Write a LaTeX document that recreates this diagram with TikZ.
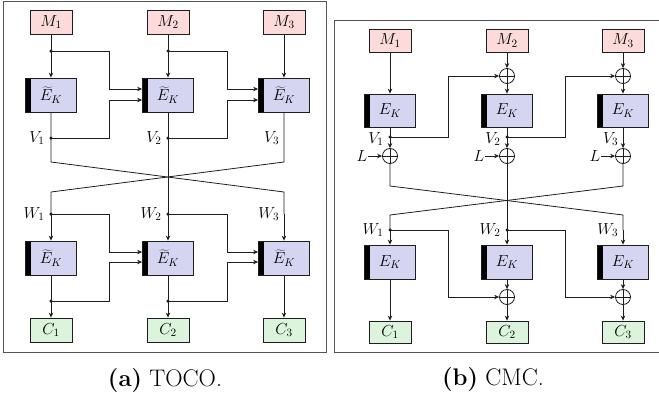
\RequirePackage{fix-cm}
\documentclass[tikz,border=0pt]{standalone}
\usepackage{fontspec}
\usetikzlibrary{arrows.meta,calc}
\definecolor{mfill}{RGB}{253,219,219}
\definecolor{efill}{RGB}{213,213,242}
\definecolor{cfill}{RGB}{220,244,220}
\definecolor{frm}{RGB}{85,85,85}
\definecolor{ln}{RGB}{30,30,30}
\begin{document}
\begin{tikzpicture}[x=1pt,y=-1pt,
  every node/.style={font=\fontsize{16}{19}\selectfont},
  frame/.style={draw=frm,line width=1pt},
  wire/.style={draw=ln,line width=0.8pt},
  arr/.style={wire,-{Stealth[length=5pt,width=4.5pt]}},
  mbox/.style={draw=ln,fill=mfill,minimum width=42pt,minimum height=24pt,inner sep=0pt,line width=0.8pt},
  cbox/.style={draw=ln,fill=cfill,minimum width=42pt,minimum height=24pt,inner sep=0pt,line width=0.8pt},
  ebox/.style={draw=ln,fill=efill,minimum width=51pt,minimum height=34pt,inner sep=0pt,line width=0.8pt,
    path picture={\fill[black] (path picture bounding box.north west) rectangle ([xshift=5pt]path picture bounding box.south west);}},
  xor/.style={circle,draw=ln,line width=0.8pt,fill=white,minimum size=15pt,inner sep=0pt,
    path picture={\draw[ln,line width=0.8pt] (path picture bounding box.north) -- (path picture bounding box.south)
      (path picture bounding box.west) -- (path picture bounding box.east);}},
  dot/.style={circle,fill=ln,inner sep=0pt,minimum size=3.5pt},
  pt/.style={inner sep=0pt,minimum size=0pt},
  lbl/.style={label distance=1pt},
  captxt/.style={font=\fontsize{24}{28}\selectfont}
]
\useasboundingbox (0,0) rectangle (659,399);
\clip (0,0) rectangle (659,399);

% ================= (a) TOCO =================
\draw[frame] (3,1) rectangle (326,352);
\foreach \i/\x in {1/51,2/168,3/284}{
  \node[mbox] (aM\i) at (\x,22) {$M_\i$};
  \node[ebox] (aE\i) at (\x,95) {$\widetilde{E}_K$};
  \node[ebox] (aF\i) at (\x,258) {$\widetilde{E}_K$};
  \node[cbox] (aC\i) at (\x,330) {$C_\i$};
  \coordinate (aP\i) at (\x,162);
  \coordinate (aQ\i) at (\x,192);
}
% junction dots
\node[dot] (aD1) at (51,51) {};
\node[dot] (aD2) at (168,51) {};
\node[dot,label={[lbl]left:$V_1$}] (aV1) at (51,138) {};
\node[dot,label={[lbl]left:$V_2$}] (aV2) at (168,138) {};
\node[pt,label={[lbl]left:$V_3$}] (aV3) at (284,138) {};
\node[dot,label={[lbl]left:$W_1$}] (aW1) at (51,214) {};
\node[dot,label={[lbl]left:$W_2$}] (aW2) at (168,214) {};
\node[pt,label={[lbl]left:$W_3$}] (aW3) at (284,214) {};
\node[dot] (aB1) at (51,301) {};
\node[dot] (aB2) at (168,301) {};
\coordinate (aK1) at (109,51);
\coordinate (aK2) at (227,51);
\coordinate (aL1) at (109,138);
\coordinate (aL2) at (227,138);
\coordinate (aR1) at (109,214);
\coordinate (aR2) at (227,214);
\coordinate (aS1) at (109,301);
\coordinate (aS2) at (227,301);

% top inputs
\draw[wire] (aM1) -- (aD1.center);
\draw[arr] (aD1.center) -- (aE1);
\draw[wire] (aM2) -- (aD2.center);
\draw[arr] (aD2.center) -- (aE2);
\draw[arr] (aM3) -- (aE3);
\draw[arr] (aD1.center) -- (aK1) |- ([yshift=6pt]aE2.west);
\draw[arr] (aD2.center) -- (aK2) |- ([yshift=6pt]aE3.west);
\draw[arr] (aV1.center) -- (aL1) |- ([yshift=-5pt]aE2.west);
\draw[arr] (aV2.center) -- (aL2) |- ([yshift=-5pt]aE3.west);
% mixing layer
\draw[wire] (aE1) -- (aP1) -- (aQ3) -- (aW3.center);
\draw[wire] (aE3) -- (aP3) -- (aQ1) -- (aW1.center);
\draw[wire] (aE2) -- (aW2.center);
\draw[arr] (aW1.center) -- (aF1);
\draw[arr] (aW2.center) -- (aF2);
\draw[arr] (aW3.center) -- (aF3);
\draw[arr] (aW1.center) -- (aR1) |- ([yshift=6pt]aF2.west);
\draw[arr] (aW2.center) -- (aR2) |- ([yshift=6pt]aF3.west);
% bottom outputs
\draw[wire] (aF1) -- (aB1.center);
\draw[arr] (aB1.center) -- (aC1);
\draw[wire] (aF2) -- (aB2.center);
\draw[arr] (aB2.center) -- (aC2);
\draw[arr] (aF3) -- (aC3);
\draw[arr] (aB1.center) -- (aS1) |- ([yshift=-4pt]aF2.west);
\draw[arr] (aB2.center) -- (aS2) |- ([yshift=-4pt]aF3.west);
\node[captxt] (capa) at (165,381) {\textbf{(a)} TOCO.};

% ================= (b) CMC =================
\draw[frame] (334,20) rectangle (680,352);
\foreach \i/\x in {1/390,2/507,3/623}{
  \node[mbox,minimum height=23pt] (bM\i) at (\x,40.5) {$M_\i$};
  \node[ebox,minimum height=33pt] (bE\i) at (\x,110.5) {$E_K$};
  \node[xor] (bX\i) at (\x,156) {};
  \node[ebox] (bF\i) at (\x,262) {$E_K$};
  \node[cbox,minimum height=22pt] (bC\i) at (\x,332) {$C_\i$};
  \coordinate (bP\i) at (\x,186);
  \coordinate (bQ\i) at (\x,215);
  \node[pt] (bLt\i) at ({\x-28},156) {$L$};
  \draw[arr] (bLt\i) -- (bX\i);
}
\node[xor] (bT2) at (507,76) {};
\node[xor] (bT3) at (623,76) {};
\node[xor] (bY2) at (507,297) {};
\node[xor] (bY3) at (623,297) {};
\node[dot,label={[lbl,yshift=-2pt]left:$V_1$}] (bV1) at (390,137) {};
\node[dot,label={[lbl,yshift=-2pt]left:$V_2$}] (bV2) at (507,137) {};
\node[pt,label={[lbl,yshift=-2pt]left:$V_3$}] (bV3) at (623,137) {};
\node[dot,label={[lbl]left:$W_1$}] (bW1) at (390,230) {};
\node[dot,label={[lbl]left:$W_2$}] (bW2) at (507,230) {};
\node[pt,label={[lbl]left:$W_3$}] (bW3) at (623,230) {};
\coordinate (bK1) at (448,137);
\coordinate (bK2) at (565,137);
\coordinate (bR1) at (448,230);
\coordinate (bR2) at (565,230);

% top
\draw[arr] (bM1) -- (bE1);
\draw[arr] (bM2) -- (bT2);
\draw[arr] (bT2) -- (bE2);
\draw[arr] (bM3) -- (bT3);
\draw[arr] (bT3) -- (bE3);
\draw[wire] (bE1) -- (bV1.center);
\draw[wire] (bE2) -- (bV2.center);
\draw[arr] (bV1.center) -- (bX1);
\draw[arr] (bV2.center) -- (bX2);
\draw[arr] (bE3) -- (bX3);
\draw[arr] (bV1.center) -- (bK1) |- (bT2.west);
\draw[arr] (bV2.center) -- (bK2) |- (bT3.west);
% mixing
\draw[wire] (bX1) -- (bP1) -- (bQ3) -- (bW3.center);
\draw[wire] (bX3) -- (bP3) -- (bQ1) -- (bW1.center);
\draw[wire] (bX2) -- (bW2.center);
\draw[arr] (bW1.center) -- (bF1);
\draw[arr] (bW2.center) -- (bF2);
\draw[arr] (bW3.center) -- (bF3);
\draw[arr] (bW1.center) -- (bR1) |- (bY2.west);
\draw[arr] (bW2.center) -- (bR2) |- (bY3.west);
% bottom
\draw[arr] (bF1) -- (bC1);
\draw[arr] (bF2) -- (bY2);
\draw[arr] (bY2) -- (bC2);
\draw[arr] (bF3) -- (bY3);
\draw[arr] (bY3) -- (bC3);
\node[captxt] (capb) at (493,380) {\textbf{(b)} CMC.};
\end{tikzpicture}
\end{document}
